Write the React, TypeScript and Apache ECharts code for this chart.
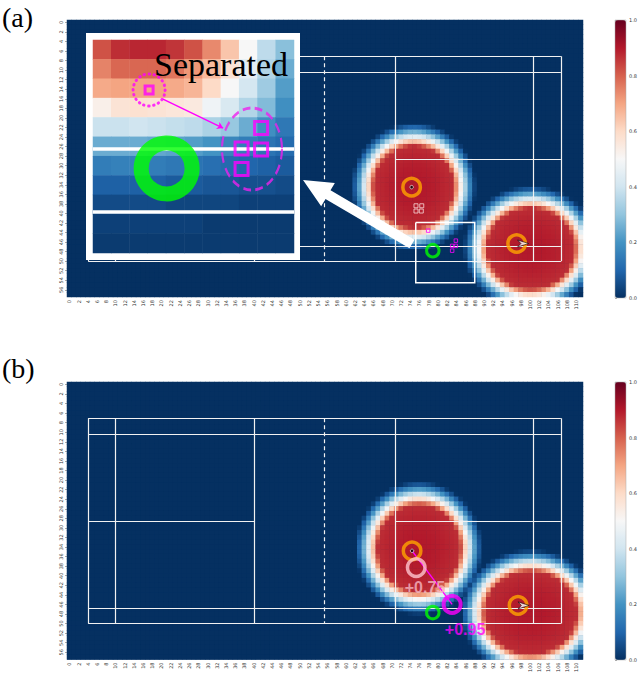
import React, { useEffect, useRef } from 'react';
import * as echarts from 'echarts';

// ---------- axes / categories ----------
const N_COLS = 112;
const N_ROWS = 58;
const X_LABELS = Array.from({ length: N_COLS }, (_, i) => String(i));
const Y_LABELS = Array.from({ length: N_ROWS }, (_, i) => String(i));
const CBAR_MIN = 0;
const CBAR_MAX = 1;
const CBAR_STEP = 0.2;

// RdBu_r colormap
const RDBU_R = ['#053061', '#2166ac', '#4393c3', '#92c5de', '#d1e5f0', '#f7f7f7', '#fddbc7', '#f4a582', '#d6604d', '#b2182b', '#67001f'];

// ---------- heat blobs (cell units) ----------
const BLOB_A_CX = [75.3, 100.7];
const BLOB_A_CY = [35.0, 47.9];
const BLOB_A_RX = [8.6, 9.4];
const BLOB_A_RY = [8.5, 8.4];
const BLOB_B_CX = [76.4, 100.7];
const BLOB_B_CY = [34.8, 48.3];
const BLOB_B_RX = [8.9, 9.9];
const BLOB_B_RY = [9.0, 8.6];
const BLOB_PEAK = 0.9;
const BLOB_EDGE = 5;

// ---------- inset (zoomed cells, panel a) ----------
const INSET_ROWS = [
  [0.82, 0.87, 0.88, 0.88, 0.86, 0.82, 0.74, 0.64, 0.5, 0.37, 0.29],
  [0.75, 0.79, 0.79, 0.79, 0.77, 0.72, 0.66, 0.57, 0.45, 0.35, 0.25],
  [0.69, 0.7, 0.7, 0.7, 0.69, 0.67, 0.6, 0.5, 0.41, 0.32, 0.22],
  [0.53, 0.57, 0.58, 0.57, 0.56, 0.55, 0.48, 0.42, 0.35, 0.28, 0.19],
  [0.39, 0.39, 0.4, 0.39, 0.38, 0.37, 0.34, 0.31, 0.25, 0.19, 0.14],
  [0.25, 0.25, 0.25, 0.24, 0.23, 0.22, 0.2, 0.17, 0.15, 0.13, 0.11],
  [0.15, 0.16, 0.16, 0.15, 0.14, 0.13, 0.12, 0.11, 0.1, 0.09, 0.08],
  [0.09, 0.09, 0.09, 0.09, 0.08, 0.08, 0.07, 0.07, 0.06, 0.06, 0.05],
  [0.05, 0.05, 0.05, 0.05, 0.04, 0.04, 0.04, 0.04, 0.03, 0.03, 0.03],
  [0.03, 0.03, 0.03, 0.03, 0.03, 0.03, 0.02, 0.02, 0.02, 0.02, 0.02],
  [0.02, 0.02, 0.02, 0.02, 0.02, 0.02, 0.02, 0.02, 0.02, 0.02, 0.02],
];
const INSET_N = 11;
const INSET_LINES_Y = [5.6, 8.88];
const INSET_DOT_CIRCLE = [3.07, 2.58];
const INSET_SQUARES = [[9.2, 4.55], [8.13, 5.6], [9.2, 5.66], [8.13, 6.66]];
const INSET_GREEN = [4.03, 6.63];
const INSET_ELLIPSE = [8.7, 5.63];
const INSET_ARROW = [[3.83, 3.05], [7.12, 4.55]];

// ---------- court lines (cell units) ----------
const COURT_VX = [4.6, 10.5, 40.6, 71.2, 101.3, 107.2];
const COURT_HY = [7.6, 11.0, 47.3, 50.5];
const COURT_LEFT = 4.6, COURT_RIGHT = 107.2, COURT_TOP = 7.6, COURT_BOTTOM = 50.5;
const SHORT_L = 40.6, SHORT_R = 71.2;
const CENTER_Y = 29.1;
const NET_X = 55.9;

// ---------- markers panel (a) ----------
const ORANGE_A = [[74.8, 35.0], [97.6, 46.8]];
const GREEN_A = [[79.4, 48.3]];
const WHITE_SQ_A = [[75.75, 38.9], [77.0, 38.9], [75.75, 40.0], [76.9, 40.0]];
const MAGENTA_SQ_A = [[78.4, 44.1], [84.4, 46.2], [83.6, 47.3], [84.4, 47.3], [83.6, 48.3]];
const SHUTTLE_A = [[99.0, 46.8]];
const ZOOM_BOX_A = [[75.7, 42.4], [88.5, 55.0]];

// ---------- markers panel (b) ----------
const ORANGE_B = [[74.9, 35.3], [97.9, 46.7]];
const PINK_B = [[75.8, 38.8]];
const MAGENTA_B = [[83.6, 46.5]];
const GREEN_B = [[79.4, 48.2]];
const SHUTTLE_B = [[99.1, 46.7]];
const GAIN_LABELS = ['+0.75', '+0.95'];
const GAIN_POS = [[77.7, 43.0], [86.4, 51.7]];

function makeHeat(cx: number[], cy: number[], rx: number[], ry: number[]) {
  const out: number[][] = [];
  for (let j = 0; j < N_ROWS; j++) {
    for (let i = 0; i < N_COLS; i++) {
      let v = 0;
      for (let k = 0; k < cx.length; k++) {
        const dx = i + 0.5 - cx[k];
        const dy = j + 0.5 - cy[k];
        const n = Math.hypot(dx / rx[k], dy / ry[k]);
        const rAvg = (rx[k] + ry[k]) / 2;
        let b;
        if (n <= 1) b = BLOB_PEAK - 0.03 * n * n;
        else {
          const t = Math.min(1, ((n - 1) * rAvg) / BLOB_EDGE);
          b = (BLOB_PEAK - 0.03) * Math.pow(1 - t, 1.3);
        }
        if (b > v) v = b;
      }
      out.push([i, j, +v.toFixed(3)]);
    }
  }
  return out;
}

function courtSegments() {
  const segs: any[] = [];
  COURT_VX.forEach((x) => segs.push({ coords: [[x, COURT_TOP], [x, COURT_BOTTOM]] }));
  COURT_HY.forEach((y) => segs.push({ coords: [[COURT_LEFT, y], [COURT_RIGHT, y]] }));
  segs.push({ coords: [[COURT_LEFT, CENTER_Y], [SHORT_L, CENTER_Y]] });
  segs.push({ coords: [[SHORT_R, CENTER_Y], [COURT_RIGHT, CENTER_Y]] });
  segs.push({ coords: [[NET_X, COURT_TOP], [NET_X, COURT_BOTTOM]], lineStyle: { type: [4, 3] } });
  return segs;
}

function ring(p: number[], color: string, size: number, bw: number) {
  return { value: p, symbol: 'circle', symbolSize: size, itemStyle: { color: 'transparent', borderColor: color, borderWidth: bw } };
}
function square(p: number[], color: string, size: number, bw: number) {
  return { value: p, symbol: 'rect', symbolSize: size, itemStyle: { color: 'transparent', borderColor: color, borderWidth: bw } };
}
function dot(p: number[]) {
  return { value: p, symbol: 'circle', symbolSize: 3.5, itemStyle: { color: '#000', borderColor: '#fff', borderWidth: 0.8 } };
}
const SHUTTLE_PATH = 'path://M0,0 L10,4 L0,8 L3,4 Z';
function shuttle(p: number[]) {
  return { value: p, symbol: SHUTTLE_PATH, symbolSize: [11, 7], itemStyle: { color: '#fff', borderColor: '#000', borderWidth: 0.7 } };
}

function arrowPolygon(tail: number[], tip: number[], bodyHalf: number, headLen: number, headHalf: number) {
  const dx = tip[0] - tail[0], dy = tip[1] - tail[1];
  const L = Math.hypot(dx, dy);
  const ux = dx / L, uy = dy / L;
  const nx = -uy, ny = ux;
  const bx = tip[0] - ux * headLen, by = tip[1] - uy * headLen;
  return [
    [tail[0] + nx * bodyHalf, tail[1] + ny * bodyHalf],
    [bx + nx * bodyHalf, by + ny * bodyHalf],
    [bx + nx * headHalf, by + ny * headHalf],
    [tip[0], tip[1]],
    [bx - nx * headHalf, by - ny * headHalf],
    [bx - nx * bodyHalf, by - ny * bodyHalf],
    [tail[0] - nx * bodyHalf, tail[1] - ny * bodyHalf],
  ];
}

const TICK_FONT = { fontSize: 5, color: '#333', fontFamily: 'DejaVu Sans' };

function catX(gridIndex: number) {
  return {
    type: 'category', gridIndex, data: X_LABELS, boundaryGap: true,
    axisLine: { show: false },
    axisTick: { show: true, interval: 1, length: 2, alignWithLabel: true, lineStyle: { color: '#555', width: 0.5 } },
    axisLabel: { ...TICK_FONT, interval: 1, rotate: 90, margin: 3 },
    splitLine: { show: false },
  };
}
function catY(gridIndex: number) {
  return {
    type: 'category', gridIndex, data: Y_LABELS, inverse: true, boundaryGap: true,
    axisLine: { show: false },
    axisTick: { show: true, interval: 1, length: 2, alignWithLabel: true, lineStyle: { color: '#555', width: 0.5 } },
    axisLabel: { ...TICK_FONT, interval: 1, rotate: 90, margin: 4 },
    splitLine: { show: false },
  };
}
function valAxis(gridIndex: number, max: number, inverse = false) {
  return { type: 'value', gridIndex, min: 0, max, inverse, show: false, splitLine: { show: false } };
}
function hiddenCat(gridIndex: number, n: number, inverse = false) {
  return { type: 'category', gridIndex, data: Array.from({ length: n }, (_, i) => i), inverse, show: false };
}
function cbarAxis(gridIndex: number) {
  return {
    type: 'value', gridIndex, min: CBAR_MIN, max: CBAR_MAX, interval: CBAR_STEP, position: 'right',
    axisLine: { show: false },
    axisTick: { show: true, length: 2, lineStyle: { color: '#555', width: 0.5 } },
    axisLabel: { ...TICK_FONT, margin: 3, formatter: (v: number) => v.toFixed(1) },
    splitLine: { show: false },
  };
}

export default function App() {
  const ref = useRef<HTMLDivElement>(null);
  useEffect(() => {
    const chart = echarts.init(ref.current!, null, { renderer: 'svg' });
    const heatA = makeHeat(BLOB_A_CX, BLOB_A_CY, BLOB_A_RX, BLOB_A_RY);
    const heatB = makeHeat(BLOB_B_CX, BLOB_B_CY, BLOB_B_RX, BLOB_B_RY);
    const insetData: number[][] = [];
    INSET_ROWS.forEach((row, j) => row.forEach((v, i) => insetData.push([i, j, v])));

    const heatCommon = {
      type: 'heatmap', progressive: 0, emphasis: { disabled: true }, silent: true,
      itemStyle: { borderWidth: 0 },
    };
    const lineCommon = { type: 'lines', coordinateSystem: 'cartesian2d', silent: true, symbol: 'none', effect: { show: false } };

    const option: any = {
      animation: false,
      backgroundColor: '#ffffff',
      grid: [
        { left: 67, top: 20, width: 516, height: 277, show: true, backgroundColor: '#053061', borderWidth: 0 },
        { left: 67, top: 382, width: 516, height: 278, show: true, backgroundColor: '#053061', borderWidth: 0 },
        { left: 93, top: 40, width: 201, height: 213 },
        { left: 615, top: 20, width: 11, height: 278 },
        { left: 615, top: 382, width: 11, height: 278 },
      ],
      xAxis: [
        catX(0), valAxis(0, N_COLS), catX(1), valAxis(1, N_COLS),
        hiddenCat(2, INSET_N), valAxis(2, INSET_N),
        { type: 'value', gridIndex: 3, show: false }, { type: 'value', gridIndex: 4, show: false },
      ],
      yAxis: [
        catY(0), valAxis(0, N_ROWS, true), catY(1), valAxis(1, N_ROWS, true),
        hiddenCat(2, INSET_N, true), valAxis(2, INSET_N, true),
        cbarAxis(3), cbarAxis(4),
      ],
      visualMap: [
        { type: 'continuous', seriesIndex: [0, 2], min: CBAR_MIN, max: CBAR_MAX, inRange: { color: RDBU_R },
          left: 615, top: 20, itemWidth: 11, itemHeight: 278, calculable: false, padding: 0, hoverLink: false },
        { type: 'continuous', seriesIndex: [1], min: CBAR_MIN, max: CBAR_MAX, inRange: { color: RDBU_R },
          left: 615, top: 382, itemWidth: 11, itemHeight: 278, calculable: false, padding: 0, hoverLink: false },
      ],
      series: [
        { ...heatCommon, xAxisIndex: 0, yAxisIndex: 0, data: heatA, z: 1 },
        { ...heatCommon, xAxisIndex: 2, yAxisIndex: 2, data: heatB, z: 1 },
        { ...heatCommon, xAxisIndex: 4, yAxisIndex: 4, data: insetData, z: 4 },
        { ...lineCommon, xAxisIndex: 1, yAxisIndex: 1, z: 2, lineStyle: { color: '#f2f2f2', width: 1.2, opacity: 1 }, data: courtSegments() },
        { ...lineCommon, xAxisIndex: 3, yAxisIndex: 3, z: 2, lineStyle: { color: '#f2f2f2', width: 1.2, opacity: 1 }, data: courtSegments() },
        { ...lineCommon, xAxisIndex: 1, yAxisIndex: 1, z: 5, polyline: true, lineStyle: { color: '#ffffff', width: 1.5, opacity: 1 },
          data: [{ coords: [
            [ZOOM_BOX_A[0][0], ZOOM_BOX_A[0][1]], [ZOOM_BOX_A[1][0], ZOOM_BOX_A[0][1]],
            [ZOOM_BOX_A[1][0], ZOOM_BOX_A[1][1]], [ZOOM_BOX_A[0][0], ZOOM_BOX_A[1][1]],
            [ZOOM_BOX_A[0][0], ZOOM_BOX_A[0][1]]] }] },
        { ...lineCommon, xAxisIndex: 3, yAxisIndex: 3, z: 5, lineStyle: { color: '#ff00ff', width: 1.4, opacity: 1 },
          data: [{ coords: [ORANGE_B[0], MAGENTA_B[0]] }] },
        { type: 'scatter', xAxisIndex: 1, yAxisIndex: 1, z: 6, silent: true,
          data: [
            ...WHITE_SQ_A.map((p) => square(p, '#f6dada', 4, 1)),
            ...MAGENTA_SQ_A.map((p) => square(p, '#ff00ff', 3.5, 1)),
            ...ORANGE_A.map((p) => ring(p, '#ffa500', 17.5, 3.5)),
            ...GREEN_A.map((p) => ring(p, '#00ff00', 12.5, 3)),
            dot(ORANGE_A[0]),
            ...SHUTTLE_A.map(shuttle),
          ] },
        { type: 'scatter', xAxisIndex: 3, yAxisIndex: 3, z: 6, silent: true,
          data: [
            ...ORANGE_B.map((p) => ring(p, '#ffa500', 17.5, 3.5)),
            ...PINK_B.map((p) => ring(p, '#ffc6cf', 17.5, 3.5)),
            ...MAGENTA_B.map((p) => ring(p, '#ff00ff', 17, 4)),
            ...GREEN_B.map((p) => ring(p, '#00ff00', 12.5, 3)),
            dot(ORANGE_B[0]),
            ...SHUTTLE_B.map(shuttle),
            { value: GAIN_POS[0], symbolSize: 0, label: { show: true, position: 'inside', formatter: GAIN_LABELS[0], color: '#f6b8c4', fontSize: 16, fontWeight: 'bold', fontFamily: 'Liberation Sans' } },
            { value: GAIN_POS[1], symbolSize: 0, label: { show: true, position: 'inside', formatter: GAIN_LABELS[1], color: '#ff00ff', fontSize: 16, fontWeight: 'bold', fontFamily: 'Liberation Sans' } },
          ] },
        { ...lineCommon, xAxisIndex: 5, yAxisIndex: 5, z: 5, lineStyle: { color: '#ffffff', width: 3.5, opacity: 1 },
          data: [
            ...INSET_LINES_Y.map((y) => ({ coords: [[0, y], [INSET_N, y]] })),
            { coords: INSET_ARROW, lineStyle: { color: '#ff00ff', width: 1.5 }, symbol: ['none', 'arrow'], symbolSize: 6 },
          ] },
        { type: 'scatter', xAxisIndex: 5, yAxisIndex: 5, z: 6, silent: true,
          data: [
            ring(INSET_GREEN, '#00ff00', 51, 15),
            square(INSET_DOT_CIRCLE, '#ff00ff', 8, 3),
            { value: INSET_DOT_CIRCLE, symbol: 'circle', symbolSize: 32,
              itemStyle: { color: 'transparent', borderColor: '#ff00ff', borderWidth: 3, borderType: [0.5, 4.5], borderCap: 'round' } },
            { value: INSET_ELLIPSE, symbol: 'circle', symbolSize: [60, 82],
              itemStyle: { color: 'transparent', borderColor: '#ee22ee', borderWidth: 2.5, borderType: [9, 5] } },
            ...INSET_SQUARES.map((p) => square(p, '#ff00ff', 13, 3)),
          ] },
      ],
      graphic: [
        { type: 'text', z: 10, style: { text: '(a)', x: 2, y: 17, fill: '#000', font: '28px "Liberation Serif"', textVerticalAlign: 'middle', verticalAlign: 'middle' } },
        { type: 'text', z: 10, style: { text: '(b)', x: 2, y: 368, fill: '#000', font: '28px "Liberation Serif"', textVerticalAlign: 'middle', verticalAlign: 'middle' } },
        { type: 'rect', z: 3, silent: true, shape: { x: 86, y: 33, width: 214, height: 227 }, style: { fill: '#ffffff' } },
        { type: 'text', z: 10, style: { text: 'Separated', x: 154, y: 64, fill: '#000', font: '34px "Liberation Serif"', textVerticalAlign: 'middle', verticalAlign: 'middle' } },
        { type: 'polygon', z: 10, shape: { points: arrowPolygon([412, 244], [303, 180], 5, 29, 13.5) }, style: { fill: '#ffffff' } },
        { type: 'rect', z: 10, silent: true, shape: { x: 615, y: 20, width: 11, height: 278 }, style: { fill: 'none', stroke: '#aaa', lineWidth: 0.5 } },
        { type: 'rect', z: 10, silent: true, shape: { x: 615, y: 382, width: 11, height: 278 }, style: { fill: 'none', stroke: '#aaa', lineWidth: 0.5 } },
      ],
    };
    chart.setOption(option);
    return () => chart.dispose();
  }, []);
  return <div ref={ref} style={{ position: 'fixed', left: 0, top: 0, width: 640, height: 675, background: '#fff' }} />;
}
